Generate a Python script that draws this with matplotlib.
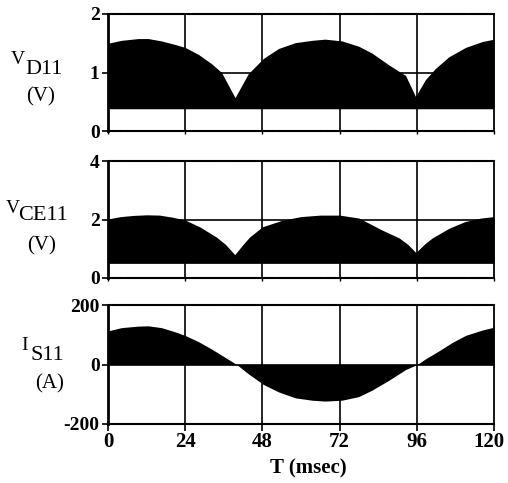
import matplotlib
matplotlib.use("Agg")
import matplotlib.pyplot as plt
from matplotlib.transforms import ScaledTranslation

# ---- data ----
t_vd = [0, 4.2, 9.4, 12.5, 16.6, 20.8, 23.9, 28.1, 32.2, 35.3, 39.5, 43.6, 48.3, 53.0, 58.2,
        63.4, 67.5, 72.7, 77.9, 82.1, 87.3, 92.5, 95.6, 98.7, 101.8, 106.0, 111.2, 116.4, 120]
v_d11 = [1.50, 1.55, 1.58, 1.58, 1.54, 1.48, 1.43, 1.31, 1.15, 1.00, 0.57, 0.98, 1.24, 1.41, 1.51,
         1.55, 1.57, 1.54, 1.45, 1.33, 1.13, 0.95, 0.59, 0.88, 1.07, 1.27, 1.43, 1.53, 1.57]
vd_base = 0.38

t_vce = [0, 4, 8, 12, 16, 20, 24, 28.5, 33.7, 36.5, 39.4, 42, 44, 48, 54, 60, 66, 72, 78, 85,
         90.5, 93.2, 95.7, 98.3, 100.8, 106, 111, 116, 120]
v_ce11 = [2.02, 2.10, 2.14, 2.16, 2.15, 2.08, 1.98, 1.75, 1.40, 1.15, 0.80, 1.15, 1.40, 1.75,
          1.97, 2.10, 2.15, 2.15, 2.05, 1.65, 1.37, 1.15, 0.87, 1.15, 1.37, 1.70, 1.93, 2.05, 2.10]
vce_base = 0.5

t_is = [0, 4.2, 9.4, 12.5, 16.6, 20.8, 23.9, 28.1, 32.2, 36.4, 40.0, 43.6, 48.3, 53.0, 58.2,
        63.4, 67.5, 72.7, 77.9, 82.1, 87.3, 92.5, 96.1, 98.7, 102.9, 107.0, 111.2, 116.4, 119.5, 120]
i_s11 = [113, 124, 129, 130, 124, 110, 98, 77, 52, 24, 0, -31, -67, -92, -112,
         -120, -123, -120, -108, -86, -53, -17, 0, 19, 46, 74, 98, 116, 124, 129]

x_ticks = [0, 24, 48, 72, 96, 120]
y_ticks = [[0, 1, 2], [0, 2, 4], [-200, 0, 200]]
y_mid = [1, 2, 0]

W, H = 508, 483
fig = plt.figure(figsize=(W / 100, H / 100), dpi=100)
serif = ["Liberation Serif", "DejaVu Serif"]

left, right = 108 / W, 494 / W
panels = [(14, 131), (161, 278), (305, 424)]
axes = []
for (top, bot) in panels:
    ax = fig.add_axes([left, 1 - bot / H, right - left, (bot - top) / H])
    axes.append(ax)

data = [(t_vd, v_d11, vd_base), (t_vce, v_ce11, vce_base), (t_is, i_s11, 0)]
for i, ax in enumerate(axes):
    t, v, base = data[i]
    ax.fill_between(t, base, v, color="black", linewidth=0)
    ax.set_xlim(0, 120)
    ax.set_ylim(y_ticks[i][0], y_ticks[i][-1])
    for xv in x_ticks[1:-1]:
        ax.axvline(xv, color="black", lw=1.2, zorder=3)
    ax.axhline(y_mid[i], color="black", lw=1.2, zorder=3)
    ax.set_xticks(x_ticks)
    ax.set_yticks(y_ticks[i])
    ax.set_yticklabels([str(y) for y in y_ticks[i]], fontfamily=serif, fontsize=14, fontweight="bold")
    ax.tick_params(axis="y", direction="out", length=4, width=1.2, pad=2)
    if i < 2:
        ax.tick_params(axis="x", direction="out", length=2, width=1.0, labelbottom=False)
    else:
        labels = ax.set_xticklabels([str(x) for x in x_ticks], fontfamily=serif, fontsize=15, fontweight="bold")
        ax.tick_params(axis="x", direction="out", length=5, width=1.2, pad=1)
        last = labels[-1]
        last.set_transform(last.get_transform() + ScaledTranslation(-5 / 100, 0, fig.dpi_scale_trans))
    ax.spines["left"].set_linewidth(2.0)
    ax.spines["right"].set_linewidth(1.3)
    for s in ("top", "bottom"):
        ax.spines[s].set_linewidth(1.5)
        ax.spines[s].set_linestyle((0, (2.5, 0.8)))

def ftext(px, py, s, size, **kw):
    fig.text(px / W, 1 - py / H, s, fontsize=size, fontfamily=serif, ha="center", va="center", **kw)

ftext(18, 59, "V", 14)
ftext(44, 70, "D11", 16)
ftext(41, 97, "(V)", 15)

ftext(13, 208, "V", 14)
ftext(43, 216, "CE11", 16)
ftext(42, 246, "(V)", 15)

ftext(25, 345, "I", 14)
ftext(47, 356, "S11", 16)
ftext(50, 384, "(A)", 15)

ftext(308, 468, "T (msec)", 15, fontweight="bold")

fig.savefig("out.png", dpi=100)
